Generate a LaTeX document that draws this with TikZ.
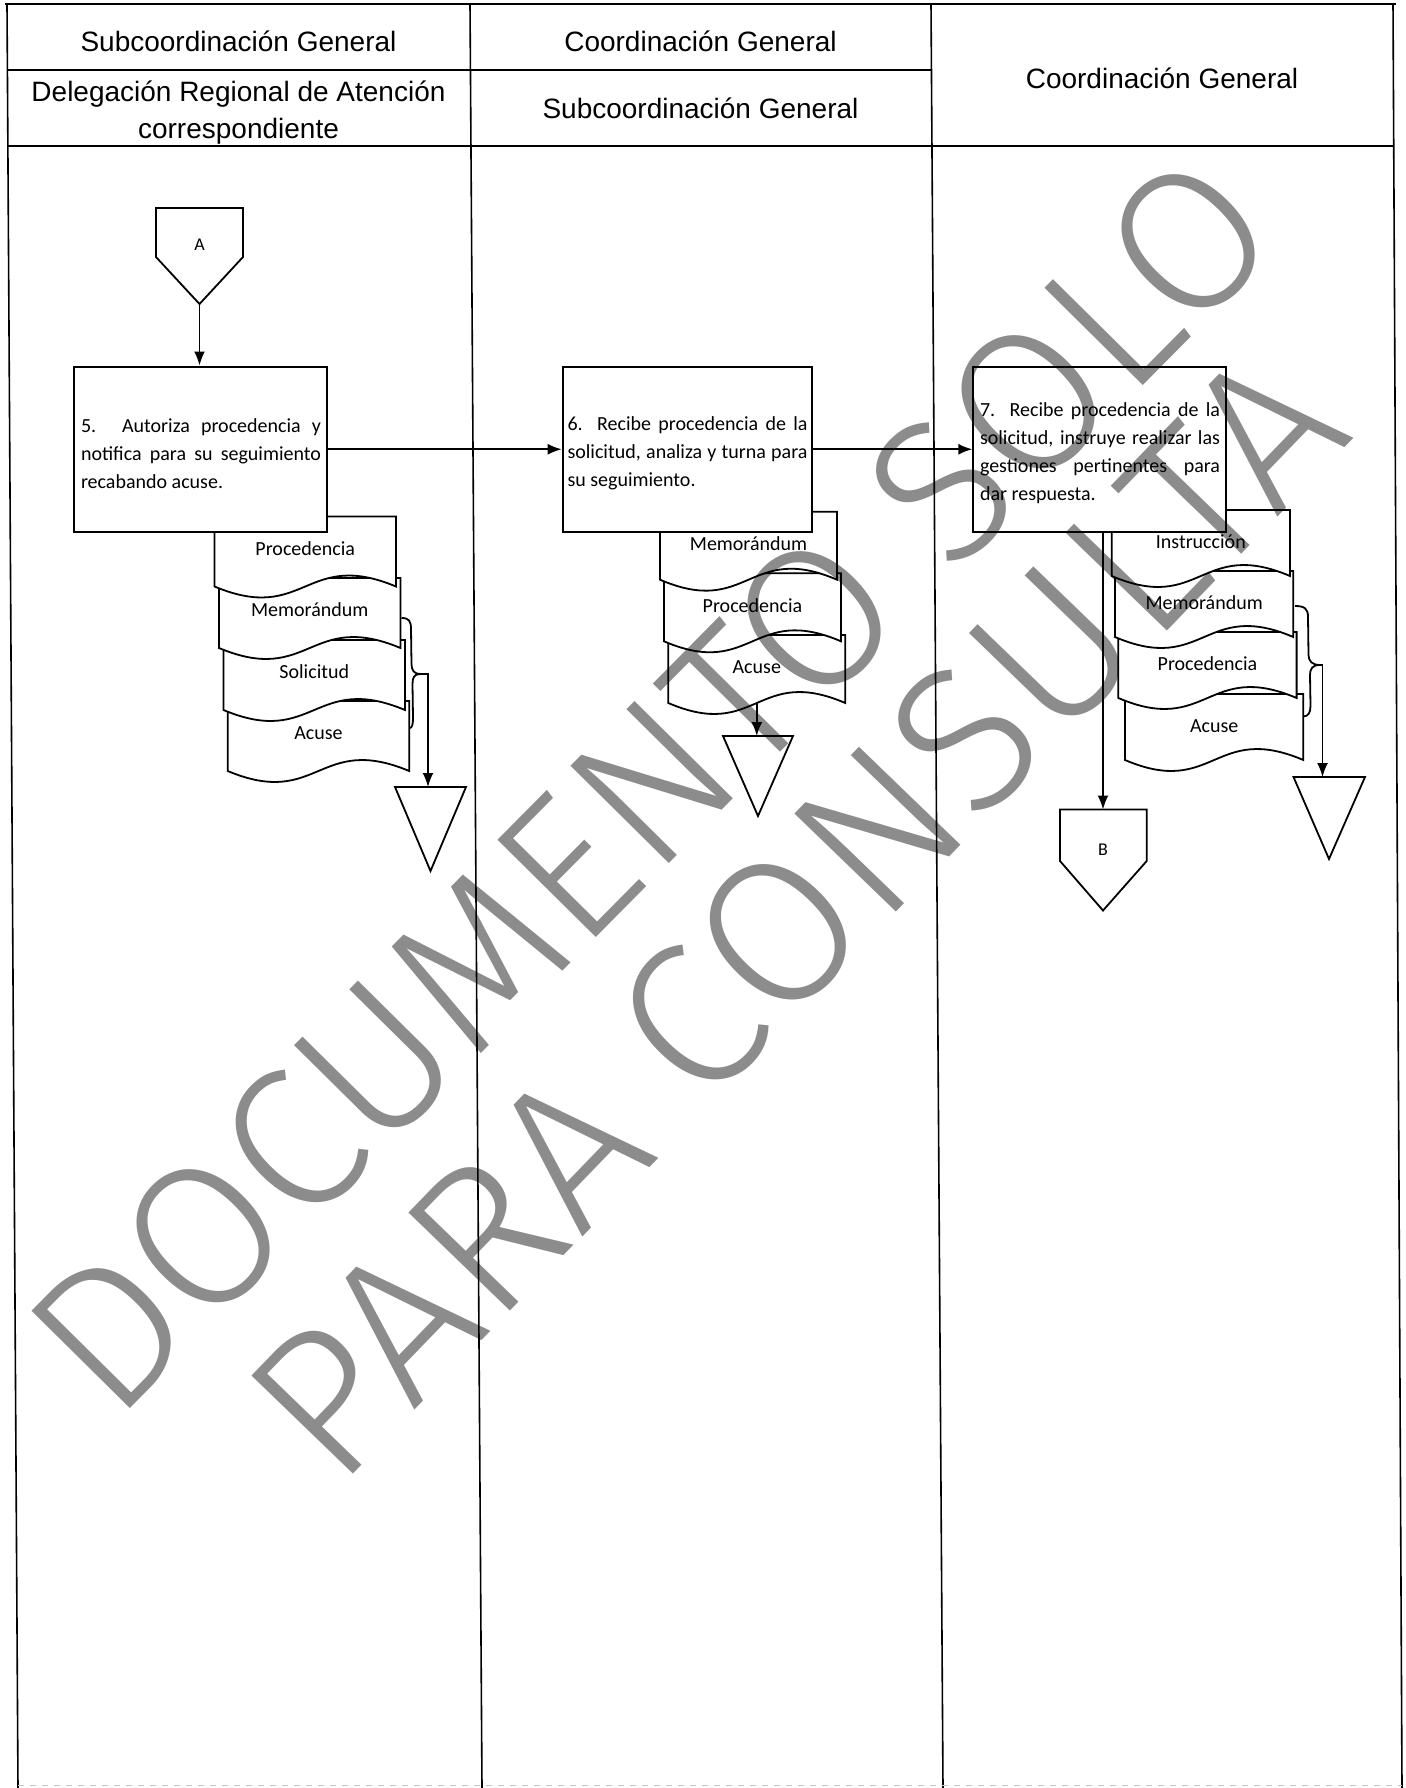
\documentclass[tikz,border=0pt]{standalone}
\usepackage{fontspec}
\setmainfont{Carlito}
\newfontfamily\hdrfont{Liberation Sans}
\newfontfamily\wmfont{Fira Sans Light}
\usetikzlibrary{arrows.meta}
\definecolor{wm}{RGB}{140,140,140}
\newcommand{\docshape}[6]{% name, L, T, W, H, label
  \filldraw[docline] (#2,#3) -- ++(#4,0) -- ++(0,#5)
    .. controls +({-#4/2},-38) and +({#4/2},38) .. ++(-#4,0) -- cycle;
  \node[doclbl] (#1) at ({#2+#4/2},{#3+32}) {#6};}
\begin{document}
\begin{tikzpicture}[x=0.5pt,y=-0.5pt,
  lane/.style={line width=0.8pt},
  hline/.style={line width=1.1pt},
  hdr/.style={font=\hdrfont\fontsize{14pt}{18.5pt}\selectfont, anchor=base, inner sep=0pt},
  box/.style={draw, line width=1pt, fill=white, minimum height=82.75pt, inner sep=0pt},
  btext/.style={text width=120pt, align=justify, font=\fontsize{10pt}{14pt}\selectfont, inner sep=0pt},
  docline/.style={draw=black, fill=white, line width=0.9pt},
  doclbl/.style={font=\fontsize{10pt}{12pt}\selectfont, inner sep=0pt},
  conn/.style={draw=black, fill=white, line width=0.9pt},
  clbl/.style={font=\fontsize{9pt}{11pt}\selectfont, inner sep=0pt},
  arr/.style={line width=0.9pt, -{Latex[length=7pt,width=5.5pt]}},
  brc/.style={line width=0.9pt},
  wmtext/.style={font=\wmfont\fontsize{#1}{#1}\selectfont, text=wm, inner sep=0pt}
]
\useasboundingbox (0,0) rectangle (1405,1788);
\fill[white] (0,0) rectangle (1405,1788);

% ---- lanes and header ----
\draw[hline] (5,4) -- (1396,4);
\draw[hline] (7,70) -- (931,70);
\draw[hline] (7,146) -- (1394,146);
\draw[lane] (7,4) -- (18,1788);
\draw[lane] (470,4) -- (482,1788);
\draw[lane] (931,4) -- (943,1788);
\draw[lane] (1393,4) -- (1402,1788);
\draw[gray!45, line width=0.5pt, dashed] (18,1785) -- (1402,1785);

\node[hdr] (h1a) at (238.5,51) {Subcoordinación General};
\node[hdr] (h1b) at (238.5,101) {Delegación Regional de Atención};
\node[hdr] (h1c) at (238.5,138) {correspondiente};
\node[hdr] (h2a) at (700.5,51) {Coordinación General};
\node[hdr] (h2b) at (700.5,118) {Subcoordinación General};
\node[hdr] (h3) at (1162,88) {Coordinación General};

% ---- document stacks (drawn bottom-most first) ----
\docshape{l4}{227.7}{701}{181.5}{70}{Acuse}
\docshape{l3}{223.5}{640}{181.5}{70}{Solicitud}
\docshape{l2}{219}{578}{181.5}{70}{Memorándum}
\docshape{l1}{214.5}{516.5}{181.5}{70}{Procedencia}

\docshape{m3}{668.3}{635}{177}{68}{Acuse}
\docshape{m2}{664}{573.3}{177}{68}{Procedencia}
\docshape{m1}{660}{511.7}{177}{68}{Memorándum}

\docshape{r4}{1125}{694}{178.3}{66}{Acuse}
\docshape{r3}{1118.3}{632}{178.3}{66}{Procedencia}
\docshape{r2}{1115}{571}{178.3}{66}{Memorándum}
\docshape{r1}{1111.7}{510}{178.3}{66}{Instrucción}

% ---- process boxes ----
\node[box, minimum width=126.5pt] (b5) at (200.5,449.25) {};
\node[box, minimum width=124.5pt] (b6) at (687.2,449.25) {};
\node[box, minimum width=126.35pt] (b7) at (1099.65,449.25) {};
\node[btext] (t5) at (201,453.5) {5. Autoriza procedencia y\linebreak notifica para su seguimiento\linebreak recabando acuse.};
\node[btext] (t6) at (687.5,453.5) {6. Recibe procedencia de la\linebreak solicitud, analiza y turna para\linebreak su seguimiento.};
\node[btext] (t7) at (1100,452.8) {7. Recibe procedencia de la\linebreak solicitud, instruye realizar las\linebreak gestiones pertinentes para\linebreak dar respuesta.};

% ---- off-page connectors ----
\draw[conn] (156,208) -- (243,208) -- (243,257) -- (199.5,304) -- (156,257) -- cycle;
\node[clbl] (A) at (199.5,245) {A};
\coordinate (Aapex) at (199.5,304);
\draw[conn] (1060,809.5) -- (1146.7,809.5) -- (1146.7,861) -- (1103,910.5) -- (1060,861) -- cycle;
\node[clbl] (B) at (1103,850) {B};
\coordinate (Btop) at (1103,809.5);

% ---- archive triangles ----
\draw[conn] (395,787) -- (466,787) -- (430.5,871) -- cycle;
\coordinate (ltri) at (428,787);
\draw[conn] (723,736) -- (793,736) -- (758,816) -- cycle;
\coordinate (mtri) at (756.8,736);
\draw[conn] (1293.5,777) -- (1365,777) -- (1329,859) -- cycle;
\coordinate (rtri) at (1322.5,777);

% ---- braces ----
\draw[brc] (401.5,618) .. controls (409,618) and (411,621) .. (411,629) -- (411.5,664)
  .. controls (411.5,670) and (414,674) .. (420,674)
  .. controls (414,674) and (412.5,678) .. (412.5,684) -- (413,718)
  .. controls (413,725) and (412,728) .. (409.5,728);
\coordinate (lbt) at (420,674);
\draw[brc] (1295,606) .. controls (1305,606) and (1308,609) .. (1308,617) -- (1308.5,655)
  .. controls (1308.5,661) and (1312,665) .. (1320,665)
  .. controls (1312,665) and (1310,669) .. (1310,675) -- (1310.5,706)
  .. controls (1310.5,713) and (1308,716.5) .. (1303,716.5);
\coordinate (rbt) at (1320,665);
\coordinate (m3b) at (756.8,703);

% ---- connectors ----
\draw[arr] (Aapex) -- (Aapex |- b5.north);
\draw[arr] (b5.east) -- (b6.west);
\draw[arr] (b6.east) -- (b7.west);
\draw[arr] (b7.south -| Btop) -- (Btop);
\draw[arr] (lbt) -| (ltri);
\draw[arr] (m3b) -- (mtri);
\draw[arr] (rbt) -| (rtri);

% ---- watermark ----
\begin{scope}[blend mode=multiply]
\node[wmtext=101pt, rotate=45.3] (wm1) at (651,784) {DOCUMENTO SOLO};
\node[wmtext=103pt, rotate=46] (wm2) at (796,914) {\addfontfeatures{LetterSpace=1}PARA CONSULTA};
\end{scope}
\end{tikzpicture}
\end{document}
